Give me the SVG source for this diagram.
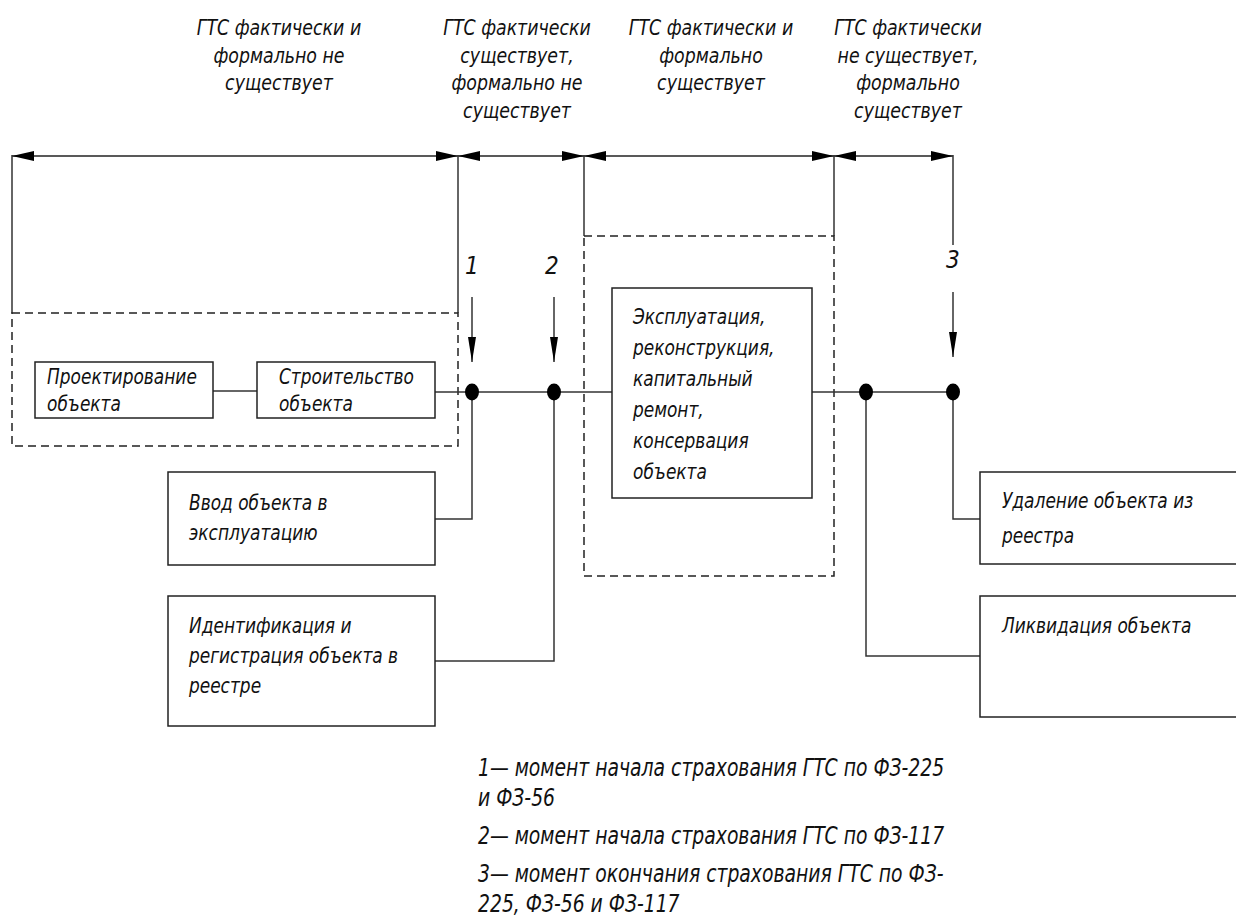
<svg xmlns="http://www.w3.org/2000/svg" width="1236" height="917" viewBox="0 0 1236 917">
<style>
text{font-family:"DejaVu Sans Condensed","DejaVu Sans","Liberation Sans",sans-serif;font-style:italic;font-size:21px;fill:#111;transform-box:fill-box;transform-origin:0 0;transform:scaleX(0.9)}
.hd{text-anchor:middle;transform-origin:50% 0;transform:scaleX(0.92)}
.num{font-size:24px;transform:none}
.lg{font-size:24px;transform:scaleX(0.87)}
.box{fill:#fff;stroke:#222;stroke-width:1.5}
.dash{fill:none;stroke:#222;stroke-width:1.5;stroke-dasharray:8 5}
.ln{fill:none;stroke:#333;stroke-width:1.5}
.dim{fill:none;stroke:#222;stroke-width:1.5;marker-start:url(#aL);marker-end:url(#aR)}
.dot{fill:#000}
</style>
<defs>
<marker id="aR" markerUnits="userSpaceOnUse" markerWidth="24" markerHeight="12" refX="22" refY="6" orient="auto"><path d="M0,1 L22,6 L0,11 Z" fill="#000"/></marker>
<marker id="aL" markerUnits="userSpaceOnUse" markerWidth="24" markerHeight="12" refX="0" refY="6" orient="auto"><path d="M22,1 L0,6 L22,11 Z" fill="#000"/></marker>
<marker id="aD" markerUnits="userSpaceOnUse" markerWidth="26" markerHeight="10" refX="25" refY="5" orient="auto"><path d="M0,1 L25,5 L0,9 Z" fill="#000"/></marker>
</defs>

<g id="headers">
<text class="hd" x="279" y="35">ГТС фактически и</text>
<text class="hd" x="279" y="63">формально не</text>
<text class="hd" x="279" y="90">существует</text>
<text class="hd" x="517" y="35">ГТС фактически</text>
<text class="hd" x="517" y="63">существует,</text>
<text class="hd" x="517" y="90">формально не</text>
<text class="hd" x="517" y="118">существует</text>
<text class="hd" x="711" y="35">ГТС фактически и</text>
<text class="hd" x="711" y="63">формально</text>
<text class="hd" x="711" y="90">существует</text>
<text class="hd" x="908" y="35">ГТС фактически</text>
<text class="hd" x="908" y="63">не существует,</text>
<text class="hd" x="908" y="90">формально</text>
<text class="hd" x="908" y="118">существует</text>
</g>

<g id="dimensions">
<line class="dim" x1="12" y1="156" x2="458" y2="156"/>
<line class="dim" x1="458" y1="156" x2="584" y2="156"/>
<line class="dim" x1="584" y1="156" x2="834" y2="156"/>
<line class="dim" x1="834" y1="156" x2="953" y2="156"/>
<line class="ln" x1="12" y1="155" x2="12" y2="313"/>
<line class="ln" x1="458" y1="155" x2="458" y2="313"/>
<line class="ln" x1="584" y1="155" x2="584" y2="236"/>
<line class="ln" x1="834" y1="155" x2="834" y2="236"/>
<line class="ln" x1="953" y1="155" x2="953" y2="245"/>
</g>

<g id="stage-groups">
<rect class="dash" x="12" y="313" width="446" height="133"/>
<rect class="dash" x="584" y="236" width="250" height="340"/>
</g>

<g id="connectors">
<line class="ln" x1="213" y1="391" x2="257" y2="391"/>
<line class="ln" x1="435" y1="392" x2="612" y2="392"/>
<line class="ln" x1="812" y1="392" x2="953" y2="392"/>
<polyline class="ln" points="472,392 472,519 435,519"/>
<polyline class="ln" points="554,392 554,661 435,661"/>
<polyline class="ln" points="953,392 953,519 980,519"/>
<polyline class="ln" points="866,392 866,656 980,656"/>
<line class="ln" x1="472" y1="297" x2="472" y2="362" marker-end="url(#aD)"/>
<line class="ln" x1="554" y1="297" x2="554" y2="362" marker-end="url(#aD)"/>
<line class="ln" x1="953" y1="292" x2="953" y2="357" marker-end="url(#aD)"/>
</g>

<g id="moments">
<text class="num" x="465" y="274">1</text>
<text class="num" x="545" y="274">2</text>
<text class="num" x="946" y="268">3</text>
<ellipse class="dot" cx="472" cy="392" rx="7" ry="8.5"/>
<ellipse class="dot" cx="554" cy="392" rx="7" ry="8.5"/>
<ellipse class="dot" cx="866" cy="392" rx="7" ry="8.5"/>
<ellipse class="dot" cx="953" cy="392" rx="7" ry="8.5"/>
</g>

<g id="node-design">
<rect class="box" x="35" y="362" width="178" height="56"/>
<text x="47" y="384">Проектирование</text>
<text x="47" y="411">объекта</text>
</g>
<g id="node-construction">
<rect class="box" x="257" y="362" width="178" height="56"/>
<text x="279" y="384">Строительство</text>
<text x="279" y="411">объекта</text>
</g>
<g id="node-operation">
<rect class="box" x="612" y="288" width="200" height="210"/>
<text x="633" y="324">Эксплуатация,</text>
<text x="633" y="355">реконструкция,</text>
<text x="633" y="386">капитальный</text>
<text x="633" y="417">ремонт,</text>
<text x="633" y="448">консервация</text>
<text x="633" y="479">объекта</text>
</g>
<g id="node-commissioning">
<rect class="box" x="168" y="472" width="267" height="93"/>
<text x="189" y="510">Ввод объекта в</text>
<text x="189" y="540">эксплуатацию</text>
</g>
<g id="node-registration">
<rect class="box" x="168" y="596" width="267" height="130"/>
<text x="189" y="633">Идентификация и</text>
<text x="189" y="663">регистрация объекта в</text>
<text x="189" y="693">реестре</text>
</g>
<g id="node-removal">
<rect class="box" x="980" y="472" width="262" height="92"/>
<text x="1002" y="508">Удаление объекта из</text>
<text x="1002" y="543">реестра</text>
</g>
<g id="node-liquidation">
<rect class="box" x="980" y="596" width="262" height="121"/>
<text x="1002" y="633">Ликвидация объекта</text>
</g>

<g id="legend">
<text class="lg" x="478" y="776">1— момент начала страхования ГТС по ФЗ-225</text>
<text class="lg" x="478" y="806">и ФЗ-56</text>
<text class="lg" x="478" y="844">2— момент начала страхования ГТС по ФЗ-117</text>
<text class="lg" x="478" y="882">3— момент окончания страхования ГТС по ФЗ-</text>
<text class="lg" x="478" y="912">225, ФЗ-56  и ФЗ-117</text>
</g>
</svg>
